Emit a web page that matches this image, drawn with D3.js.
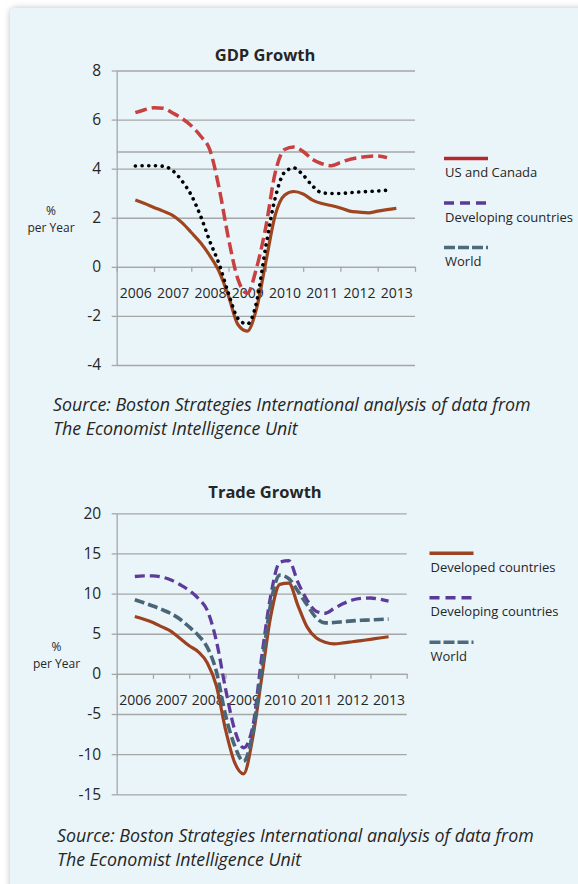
<!DOCTYPE html>
<html lang="en">
<head>
<meta charset="utf-8" />
<title>GDP and Trade Growth</title>
<script src="https://cdnjs.cloudflare.com/ajax/libs/d3/7.8.5/d3.min.js"></script>
<style>
  body { margin: 0; background: #ffffff; overflow: hidden; }
  text { font-family: "Open Sans", "Noto Sans", sans-serif; fill: #262626; }
</style>
</head>
<body>
<div id="chart"></div>
<script>
// x positions of the readings (quarters)
var quarters = [2006, 2006.25, 2006.5, 2006.75, 2007, 2007.25, 2007.5, 2007.75,
                2008, 2008.25, 2008.5, 2008.75, 2009, 2009.25, 2009.5, 2009.75,
                2010, 2010.25, 2010.5, 2010.75, 2011, 2011.25, 2011.5, 2011.75,
                2012, 2012.25, 2012.5, 2012.75, 2013];
var years = [2006, 2007, 2008, 2009, 2010, 2011, 2012, 2013];
var yearEdges = [2005.5, 2006.5, 2007.5, 2008.5, 2009.5, 2010.5, 2011.5, 2012.5, 2013.5];

// GDP growth, % per year
var gdpTicks = [-4, -2, 0, 2, 4, 6, 8];
var gdpExtraGrid = [4.7];
var gdpUsCanada = [2.72, 2.58, 2.42, 2.27, 2.1, 1.8, 1.4, 0.98, 0.45, -0.2, -1.2, -2.35, -2.62, -1.7, 0.2, 2.1,
                   2.92, 3.07, 2.97, 2.72, 2.58, 2.5, 2.4, 2.27, 2.23, 2.2, 2.27, 2.33, 2.38];
var gdpDeveloping = [6.28, 6.4, 6.48, 6.46, 6.27, 6.05, 5.75, 5.33, 4.76, 3.18, 1.14, -0.5, -1.08, -0.05, 1.63, 3.83,
                     4.78, 4.88, 4.7, 4.38, 4.2, 4.12, 4.25, 4.38, 4.45, 4.5, 4.52, 4.45];
var gdpWorld = [4.11, 4.12, 4.12, 4.1, 3.92, 3.5, 2.92, 2.07, 1.03, 0.1, -1.1, -2.1, -2.33, -1.45, 0.85, 2.8,
                3.85, 4.03, 3.74, 3.3, 3.02, 2.99, 2.99, 3.02, 3.05, 3.07, 3.09, 3.12];
var gdpLegend = ["US and Canada", "Developing countries", "World"];

// Trade growth, % per year
var tradeTicks = [-15, -10, -5, 0, 5, 10, 15, 20];
var tradeDeveloped = [7.15, 6.8, 6.4, 5.85, 5.3, 4.4, 3.5, 2.75, 1.36, -1.5, -6.9, -11.0, -12.45, -8.0, -0.5, 7.2,
                      11.15, 11.3, 8.5, 5.85, 4.5, 3.95, 3.74, 3.85, 4.0, 4.15, 4.3, 4.47, 4.62];
var tradeDeveloping = [12.13, 12.2, 12.2, 12.05, 11.7, 11.1, 10.4, 9.4, 7.9, 4.1, -1.8, -6.9, -9.2, -6.65, 2.1, 9.76,
                       13.9, 14.1, 11.4, 9.2, 7.8, 7.55, 8.15, 8.75, 9.2, 9.4, 9.45, 9.3, 9.05];
var tradeWorld = [9.23, 8.85, 8.45, 8.0, 7.5, 6.8, 5.85, 4.8, 3.3, 0.3, -5.1, -8.9, -10.9, -7.4, 0.65, 8.8,
                  12.3, 11.85, 10.3, 8.6, 7.0, 6.35, 6.4, 6.5, 6.6, 6.67, 6.72, 6.78, 6.82];
var tradeLegend = ["Developed countries", "Developing countries", "World"];

var sourceLines = ["Source: Boston Strategies International analysis of data from",
                   "The Economist Intelligence Unit"];
var yLabelLines = ["%", "per Year"];

var svg = d3.select("#chart").append("svg")
    .attr("width", 578)
    .attr("height", 884);

var filter = svg.append("defs").append("filter")
    .attr("id", "shadow")
    .attr("x", "-5%").attr("y", "-5%").attr("width", "110%").attr("height", "110%");
filter.append("feDropShadow")
    .attr("dx", 0).attr("dy", 0)
    .attr("stdDeviation", 3)
    .attr("flood-color", "#000").attr("flood-opacity", 0.25);

// light blue panel
svg.append("rect")
    .attr("x", 10).attr("y", 8)
    .attr("width", 600).attr("height", 900)
    .attr("rx", 6)
    .attr("fill", "#eaf5fa")
    .attr("filter", "url(#shadow)");

var gridColor = "#a6a6a6";

function drawChart(opt) {
  var g = svg.append("g");

  var x = d3.scaleLinear()
      .domain([yearEdges[0], yearEdges[yearEdges.length - 1]])
      .range([opt.left, opt.right]);
  var y = d3.scaleLinear()
      .domain([opt.ticks[0], opt.ticks[opt.ticks.length - 1]])
      .range([opt.bottom, opt.top]);

  // horizontal gridlines
  var grid = g.append("g")
      .attr("transform", "translate(" + opt.left + ",0)")
      .call(d3.axisLeft(y)
        .tickValues(opt.ticks.concat(opt.extraGrid || []))
        .tickSize(-(opt.right - opt.left))
        .tickFormat(""));
  grid.select(".domain").remove();
  grid.selectAll("line").attr("stroke", gridColor).attr("stroke-width", 1.3);

  // y axis with labels (plain hyphen for negatives, as in the original)
  var yAxis = g.append("g")
      .attr("transform", "translate(" + opt.left + ",0)")
      .call(d3.axisLeft(y)
        .tickValues(opt.ticks)
        .tickSizeInner(5)
        .tickSizeOuter(0)
        .tickPadding(10.5)
        .tickFormat(function(d) { return String(d); }));
  yAxis.selectAll("path, line").attr("stroke", gridColor).attr("stroke-width", 1.3);
  yAxis.selectAll("text")
      .attr("font-size", 15.5)
      .attr("font-family", "'Open Sans', sans-serif")
      .attr("fill", "#262626");

  // x axis on the zero line
  var xAxis = g.append("g")
      .attr("transform", "translate(0," + y(0) + ")")
      .call(d3.axisBottom(x)
        .tickValues(yearEdges)
        .tickSizeInner(5)
        .tickSizeOuter(0)
        .tickFormat(""));
  xAxis.selectAll("path, line").attr("stroke", gridColor).attr("stroke-width", 1.3);

  var xLabels = g.append("g")
      .attr("transform", "translate(0," + y(0) + ")")
      .call(d3.axisBottom(x)
        .tickValues(years)
        .tickSize(0)
        .tickPadding(opt.labelPad)
        .tickFormat(function(d) { return String(d); }));
  xLabels.select(".domain").remove();
  xLabels.selectAll("text")
      .attr("font-size", 14)
      .attr("font-family", "'Open Sans', sans-serif")
      .attr("fill", "#262626");

  // series
  var line = d3.line()
      .x(function(d, i) { return x(quarters[i]); })
      .y(function(d) { return y(d); })
      .curve(d3.curveMonotoneX);

  opt.series.forEach(function(s) {
    g.append("path")
        .datum(s.values)
        .attr("d", line)
        .attr("fill", "none")
        .attr("stroke", s.color)
        .attr("stroke-width", s.width)
        .attr("stroke-dasharray", s.dash)
        .attr("stroke-linecap", s.cap || "butt")
        .attr("stroke-linejoin", "round");
  });

  // title
  g.append("text")
      .attr("x", opt.titleX).attr("y", opt.titleY)
      .attr("text-anchor", "middle")
      .attr("font-size", 16.5)
      .attr("font-weight", "bold")
      .attr("fill", "#1a1a1a")
      .text(opt.title);

  // y label, two separate lines
  yLabelLines.forEach(function(t, i) {
    g.append("text")
        .attr("x", opt.yLabelX)
        .attr("y", opt.yLabelY + i * 16.5)
        .attr("text-anchor", "middle")
        .attr("font-size", 12)
        .attr("fill", "#333")
        .text(t);
  });

  // legend
  var lg = g.append("g").attr("transform", "translate(" + opt.legendX + "," + opt.legendY + ")");
  opt.legend.forEach(function(item, i) {
    var row = lg.append("g").attr("transform", "translate(0," + (i * 44.5) + ")");
    row.append("line")
        .attr("x1", 0).attr("x2", 44)
        .attr("y1", 0).attr("y2", 0)
        .attr("stroke", item.color)
        .attr("stroke-width", 3.5)
        .attr("stroke-dasharray", item.dash);
    row.append("text")
        .attr("x", 1).attr("y", 18.5)
        .attr("font-size", 13)
        .attr("fill", "#333")
        .text(item.label);
  });

  // source note, sized to the width of the original
  var src = g.append("g");
  sourceLines.forEach(function(t, i) {
    src.append("text")
        .attr("x", opt.sourceX)
        .attr("y", opt.sourceY + i * 23.5)
        .attr("font-size", 16)
        .attr("font-style", "italic")
        .attr("fill", "#333")
        .text(t);
  });
  var first = src.select("text").node();
  var fs = 16 * opt.sourceWidth / first.getComputedTextLength();
  src.selectAll("text").attr("font-size", fs);
}

drawChart({
  left: 116.7, right: 415, top: 70.5, bottom: 365,
  ticks: gdpTicks, extraGrid: gdpExtraGrid,
  labelPad: 21,
  title: "GDP Growth", titleX: 265, titleY: 60.5,
  yLabelX: 51, yLabelY: 215,
  legendX: 444, legendY: 158.5,
  legend: [
    { label: gdpLegend[0], color: "#b3282d", dash: null },
    { label: gdpLegend[1], color: "#5b3a96", dash: "10,6" },
    { label: gdpLegend[2], color: "#4e6b7c", dash: "11,3" }
  ],
  series: [
    { values: gdpUsCanada, color: "#a0461f", width: 3.2, dash: null },
    { values: gdpDeveloping, color: "#c8403f", width: 3.5, dash: "12,5" },
    { values: gdpWorld, color: "#000000", width: 3.6, dash: "0.1,6.6", cap: "round" }
  ],
  sourceX: 53, sourceY: 411, sourceWidth: 478
});

drawChart({
  left: 116.7, right: 406.7, top: 513.3, bottom: 794.3,
  ticks: tradeTicks,
  labelPad: 21,
  title: "Trade Growth", titleX: 265, titleY: 497.5,
  yLabelX: 56.5, yLabelY: 651,
  legendX: 429.5, legendY: 553.3,
  legend: [
    { label: tradeLegend[0], color: "#9c4220", dash: null },
    { label: tradeLegend[1], color: "#5b3a96", dash: "10,6" },
    { label: tradeLegend[2], color: "#4e6b7c", dash: "11,3" }
  ],
  series: [
    { values: tradeDeveloped, color: "#9c4220", width: 3.2, dash: null },
    { values: tradeDeveloping, color: "#5e3a9a", width: 3.3, dash: "10,5" },
    { values: tradeWorld, color: "#4a6676", width: 3.6, dash: "10,4" }
  ],
  sourceX: 57, sourceY: 842, sourceWidth: 477
});
</script>
</body>
</html>
